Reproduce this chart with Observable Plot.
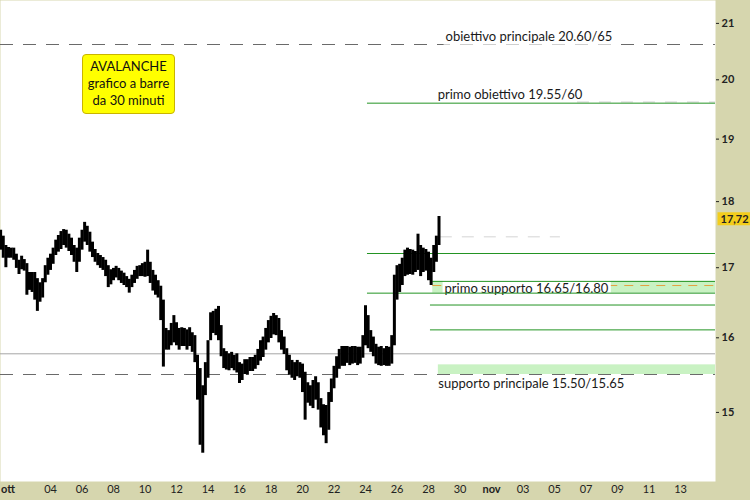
<!DOCTYPE html>
<html><head><meta charset="utf-8">
<script src="https://cdn.jsdelivr.net/npm/d3@7"></script>
<script src="https://cdn.jsdelivr.net/npm/@observablehq/plot@0.6"></script>
<style>
body{margin:0;background:#d6d6ae;}
#wrap{position:relative;width:750px;height:500px;overflow:hidden;font-family:Lato, sans-serif;}
#note{position:absolute;left:82px;top:54px;width:93px;height:60px;box-sizing:border-box;background:#ffff00;border:1px solid #c9b400;border-radius:4px;text-align:center;font-size:13px;line-height:17px;padding-top:3px;color:#111;}
</style></head>
<body><div id="wrap"><div id="note">AVALANCHE<br>grafico a barre<br>da 30 minuti</div></div>
<script>
// 4-hour high/low envelope of the 30-minute bars, starting 2022-09-30 20:00
const barStart = "2022-09-30T20:00";
const barHours = 4;
const highs = [17.56,17.47,17.33,17.30,17.29,17.29,17.20,17.11,17.17,17.12,
17.06,16.93,16.93,16.93,16.84,16.78,16.84,17.03,17.14,17.20,
17.29,17.41,17.48,17.54,17.57,17.56,17.50,17.44,17.33,17.29,
17.44,17.56,17.68,17.62,17.53,17.38,17.27,17.21,17.18,17.15,
17.11,17.03,16.97,16.99,17.02,16.99,16.95,16.92,16.87,16.83,
16.89,16.96,17.02,17.03,17.06,17.08,17.26,17.08,16.96,16.89,
16.81,16.73,16.53,16.13,16.10,16.20,16.31,16.21,16.13,16.14,
16.13,16.11,16.14,16.07,16.03,15.76,15.58,15.35,15.66,15.96,
16.35,16.37,16.40,16.44,16.17,15.85,15.81,15.78,15.80,15.76,
15.78,15.66,15.64,15.70,15.70,15.73,15.73,15.76,15.84,15.96,
16.01,16.13,16.24,16.30,16.34,16.31,16.27,16.10,16.01,15.85,
15.76,15.69,15.66,15.69,15.66,15.64,15.53,15.39,15.35,15.42,
15.47,15.39,15.18,15.10,15.09,15.26,15.44,15.61,15.74,15.84,
15.88,15.88,15.88,15.87,15.88,15.88,15.87,15.87,16.03,16.45,
16.31,16.10,16.01,15.91,15.87,15.88,15.85,15.88,15.87,16.03,
16.89,17.03,17.05,17.14,17.26,17.29,17.27,17.26,17.24,17.50,
17.33,17.29,17.27,17.23,17.14,17.33,17.47,17.77];
const lows = [17.26,17.14,17.00,17.14,17.14,17.11,16.99,16.90,16.97,16.95,
16.60,16.67,16.64,16.53,16.37,16.50,16.56,16.78,16.89,16.96,
17.05,17.18,17.23,17.27,17.33,17.29,17.24,17.18,17.08,16.93,
17.08,17.26,17.38,17.33,17.23,17.15,17.08,17.03,16.99,16.96,
16.87,16.71,16.75,16.81,16.85,16.81,16.77,16.74,16.71,16.63,
16.71,16.77,16.83,16.87,16.87,16.86,16.87,16.77,16.66,16.60,
16.56,16.24,15.60,15.83,15.83,15.89,15.93,15.89,15.83,15.88,
15.88,15.83,15.88,15.80,15.66,15.16,14.58,14.48,15.22,15.45,
15.96,16.06,16.03,15.96,15.74,15.58,15.56,15.55,15.58,15.55,
15.52,15.38,15.42,15.50,15.49,15.54,15.54,15.57,15.62,15.68,
15.73,15.83,15.93,15.99,16.04,16.03,15.93,15.83,15.77,15.55,
15.49,15.45,15.42,15.47,15.45,15.26,14.90,15.12,15.08,15.05,
15.16,15.03,14.80,14.70,14.60,14.77,15.13,15.31,15.45,15.57,
15.61,15.61,15.65,15.62,15.64,15.65,15.62,15.64,15.72,15.89,
15.85,15.80,15.74,15.64,15.62,15.61,15.62,15.61,15.61,15.64,
15.89,16.53,16.64,16.74,16.87,16.89,16.90,16.89,16.93,16.96,
16.87,16.93,16.95,16.81,16.74,16.93,17.08,17.33];
const lastPrice = 17.72;

// axes
const xDomain = ["2022-09-30T19:48", "2022-11-15T05:20"];
const yDomain = [14.13, 21.42];
const yTicks = [15, 16, 17, 18, 19, 20, 21];
const xTickDates = ["2022-10-01","2022-10-04","2022-10-06","2022-10-08","2022-10-10","2022-10-12","2022-10-14",
"2022-10-16","2022-10-18","2022-10-20","2022-10-22","2022-10-24","2022-10-26","2022-10-28","2022-10-30",
"2022-11-01","2022-11-03","2022-11-05","2022-11-07","2022-11-09","2022-11-11","2022-11-13"];
const monthNames = ["gen","feb","mar","apr","mag","giu","lug","ago","set","ott","nov","dic"];

// levels
const dashedLevels = [20.62, 15.50];
const grayLevels = [15.78];
const greenLevels = [19.60, 17.21, 16.63, 16.80, 16.46, 16.11];
const greenFrom = ["2022-10-24T03:00","2022-10-24T03:00","2022-10-24T03:00","2022-10-28T06:30","2022-10-28T03:00","2022-10-28T03:00"];
const bandLow = [16.63, 15.50];
const bandHigh = [16.80, 15.63];
const bandFrom = ["2022-10-28T06:30", "2022-10-28T15:00"];
const orangeLevel = 16.74, orangeFrom = "2022-10-28T06:30";
const faintLevels = [17.46, 19.62];
const faintFrom = ["2022-10-28T18:00", "2022-11-06T11:00"];
const faintTo = ["2022-11-05T09:00", "2022-11-15T05:20"];
const labelText = ["obiettivo principale 20.60/65", "primo obiettivo 19.55/60", "primo supporto 16.65/16.80", "supporto principale 15.50/15.65"];
const labelLevel = [20.62, 19.60, 16.74, 15.50];
const labelFrom = ["2022-10-29T02:00", "2022-10-28T14:00", "2022-10-29T00:30", "2022-10-28T15:00"];
const boxedLabels = [labelText[0], labelText[2]];

const t0 = new Date(barStart);
const bars = highs.map((h, i) => ({t: new Date(+t0 + i * barHours * 3600e3), high: h, low: lows[i]}));
const xEnd = new Date(xDomain[1]);
const D = s => new Date(s);
const idx = n => d3.range(n);

const labelMark = (i, dy) => Plot.text([i], {x: j => D(labelFrom[j]), y: j => labelLevel[j], text: j => labelText[j],
  textAnchor: "start", lineAnchor: "middle", dy, fontSize: 13, fill: "#1a1a1a"});

const chart = Plot.plot({
  width: 750, height: 500,
  marginLeft: 0, marginRight: 35, marginTop: 0, marginBottom: 19,
  style: {background: "#d6d6ae", fontFamily: "Lato, sans-serif", fontSize: "11px", color: "#222"},
  x: {type: "time", domain: xDomain.map(D), label: null},
  y: {type: "log", domain: yDomain, label: null},
  marks: [
    Plot.frame({fill: "white", stroke: "none"}),
    Plot.ruleY(grayLevels, {stroke: "#a6a6a6"}),
    Plot.ruleY(dashedLevels, {stroke: "#6a6a6a", strokeDasharray: "13,10"}),
    Plot.ruleY(idx(2), {y: i => faintLevels[i], x1: i => D(faintFrom[i]), x2: i => D(faintTo[i]), stroke: "#d4d4d4", strokeDasharray: "12,10"}),
    Plot.rect(idx(2), {x1: i => D(bandFrom[i]), x2: () => xEnd, y1: i => bandLow[i], y2: i => bandHigh[i], fill: "#c9f2c3"}),
    Plot.ruleY([orangeLevel], {x1: () => D(orangeFrom), x2: () => xEnd, stroke: "#e3a240", strokeDasharray: "9,7"}),
    labelMark(0, -8), labelMark(1, -8), labelMark(2, 3), labelMark(3, 9),
    Plot.ruleY(idx(greenLevels.length), {y: i => greenLevels[i], x1: i => D(greenFrom[i]), x2: () => xEnd, stroke: "#239423"}),
    Plot.ruleX(bars, {x: "t", y1: "low", y2: "high", stroke: "black", strokeWidth: 3}),
    Plot.axisY({anchor: "right", ticks: yTicks, tickFormat: d => String(d), tickSize: 3, tickPadding: 3, fontWeight: "bold", fontSize: 11}),
    Plot.axisX({ticks: xTickDates.map(D), tickSize: 0, tickPadding: 4, fontSize: 11,
      tickFormat: d => d.getDate() === 1 ? monthNames[d.getMonth()] : String(d.getDate()).padStart(2, "0")}),
    Plot.text([lastPrice], {y: d => d, text: d => d.toFixed(2).replace(".", ","), frameAnchor: "right", dx: 5,
      textAnchor: "start", fontWeight: "bold", fontSize: 11, fill: "#222"})
  ]
});
const wrap = document.getElementById("wrap");
wrap.insertBefore(chart, wrap.firstChild);

// text backgrounds, computed from the rendered text boxes
const sr = chart.getBoundingClientRect();
const ns = "http://www.w3.org/2000/svg";
const tagText = lastPrice.toFixed(2).replace(".", ",");
chart.querySelectorAll("text").forEach(t => {
  const s = t.textContent;
  if (s === "ott" || s === "nov") t.setAttribute("font-weight", "bold");
  if (s === "ott") {
    // keep the first month label inside the picture
    const b0 = t.getBoundingClientRect();
    const shift = sr.left - b0.left + 1;
    if (shift > 0) t.setAttribute("dx", shift);
  }
  const isBox = boxedLabels.includes(s), isTag = s === tagText;
  if (!isBox && !isTag) return;
  const b = t.getBoundingClientRect();
  const r = document.createElementNS(ns, "rect");
  const g = t.parentNode;
  if (isBox) {
    r.setAttribute("x", b.left - sr.left - 2); r.setAttribute("y", b.top - sr.top - 1);
    r.setAttribute("width", b.width + 4); r.setAttribute("height", b.height + 2);
    r.setAttribute("fill", "white");
  } else {
    r.setAttribute("x", b.left - sr.left - 3); r.setAttribute("y", b.top - sr.top);
    r.setAttribute("width", 750 - (b.left - sr.left - 3)); r.setAttribute("height", b.height);
    r.setAttribute("fill", "#f3cd1c");
  }
  g.parentNode.insertBefore(r, g);
});
</script></body></html>
